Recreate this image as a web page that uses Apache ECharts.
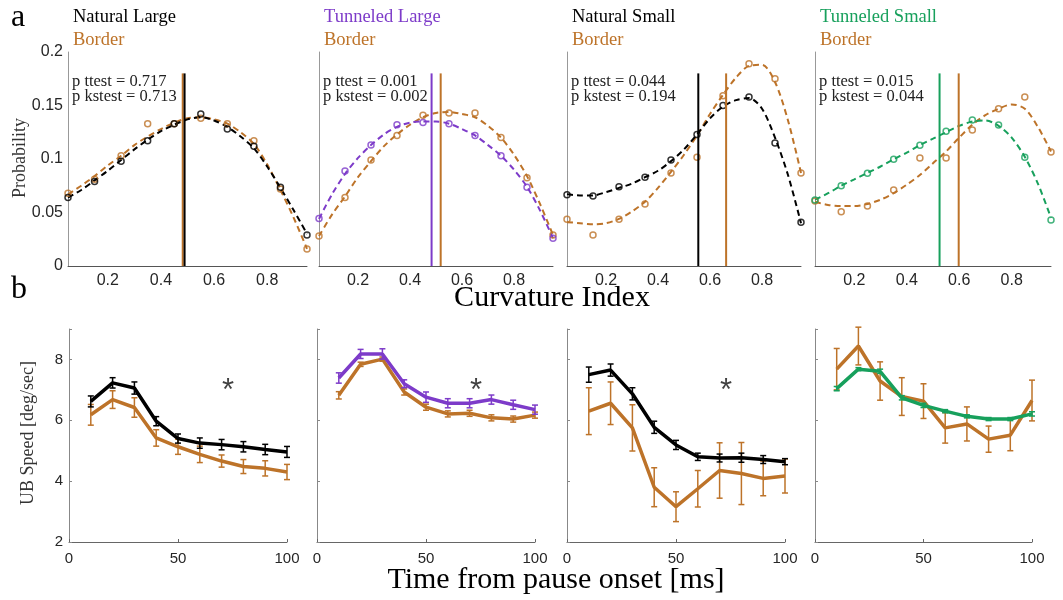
<!DOCTYPE html>
<html>
<head>
<meta charset="utf-8">
<script src="https://cdn.jsdelivr.net/npm/echarts@6/dist/echarts.min.js"></script>
<style>
    html, body { margin: 0; padding: 0; background: #fff; }
    #main { width: 1063px; height: 600px; }
</style>
</head>
<body>
<div id="main"></div>
<script>
// 曲率分箱 / 拟合曲线采样 / 时间点
var curvBins = [0.05, 0.15, 0.25, 0.35, 0.45, 0.55, 0.65, 0.75, 0.85, 0.95];
var fitBins = [0.05, 0.10, 0.15, 0.20, 0.25, 0.30, 0.35, 0.40, 0.45, 0.50,
               0.55, 0.60, 0.65, 0.70, 0.75, 0.80, 0.85, 0.90, 0.95];
var timeBins = [10, 20, 30, 40, 50, 60, 70, 80, 90, 100];

// a: Natural Large
var natLargeProb = [0.064, 0.079, 0.098, 0.117, 0.133, 0.142, 0.128, 0.112, 0.0735, 0.029];
var natLargeBorderProb = [0.068, 0.081, 0.103, 0.133, 0.133, 0.138, 0.133, 0.117, 0.072, 0.016];
var natLargeFit = [0.064, 0.071, 0.080, 0.089, 0.099, 0.109, 0.118, 0.126, 0.132, 0.137,
                   0.139, 0.136, 0.130, 0.121, 0.110, 0.093, 0.073, 0.052, 0.030];
var natLargeBorderFit = [0.067, 0.075, 0.084, 0.094, 0.103, 0.113, 0.121, 0.128, 0.134, 0.138,
                         0.139, 0.137, 0.133, 0.125, 0.114, 0.095, 0.071, 0.045, 0.016];
// a: Tunneled Large
var tunLargeProb = [0.0445, 0.0888, 0.113, 0.132, 0.134, 0.133, 0.122, 0.103, 0.0735, 0.026];
var tunLargeBorderProb = [0.028, 0.064, 0.099, 0.122, 0.141, 0.143, 0.143, 0.120, 0.0825, 0.029];
var tunLargeFit = [0.044, 0.067, 0.086, 0.101, 0.113, 0.123, 0.130, 0.134, 0.135, 0.135,
                   0.133, 0.128, 0.122, 0.113, 0.103, 0.090, 0.074, 0.052, 0.026];
var tunLargeBorderFit = [0.028, 0.048, 0.065, 0.083, 0.098, 0.112, 0.123, 0.132, 0.139, 0.143,
                         0.144, 0.142, 0.139, 0.131, 0.120, 0.104, 0.084, 0.058, 0.029];
// a: Natural Small
var natSmallProb = [0.0667, 0.0654, 0.074, 0.083, 0.099, 0.123, 0.150, 0.158, 0.115, 0.041];
var natSmallBorderProb = [0.0436, 0.029, 0.0436, 0.058, 0.087, 0.1016, 0.159, 0.189, 0.175, 0.087];
var natSmallFit = [0.067, 0.066, 0.066, 0.069, 0.073, 0.077, 0.083, 0.089, 0.098, 0.109,
                   0.123, 0.138, 0.149, 0.155, 0.157, 0.147, 0.120, 0.085, 0.040];
var natSmallBorderFit = [0.041, 0.040, 0.039, 0.040, 0.044, 0.051, 0.060, 0.073, 0.088, 0.104,
                         0.122, 0.142, 0.160, 0.176, 0.187, 0.188, 0.172, 0.136, 0.087];
// a: Tunneled Small
var tunSmallProb = [0.0617, 0.075, 0.0866, 0.0997, 0.1128, 0.126, 0.1364, 0.1318, 0.1016, 0.043];
var tunSmallBorderProb = [0.0607, 0.0508, 0.056, 0.071, 0.101, 0.101, 0.127, 0.147, 0.158, 0.1065];
var tunSmallFit = [0.062, 0.068, 0.075, 0.081, 0.087, 0.093, 0.0997, 0.106, 0.113, 0.119,
                   0.125, 0.131, 0.135, 0.136, 0.131, 0.120, 0.102, 0.077, 0.045];
var tunSmallBorderFit = [0.060, 0.057, 0.056, 0.056, 0.058, 0.062, 0.068, 0.076, 0.085, 0.096,
                         0.107, 0.120, 0.132, 0.141, 0.147, 0.151, 0.147, 0.130, 0.107];

// 均值竖线 [组, Border]
var meanCurv = [[0.489, 0.482], [0.483, 0.518], [0.555, 0.662], [0.525, 0.598]];
var meanLineTop = 0.18;
var pTtest = ['0.717', '0.001', '0.044', '0.015'];
var pKstest = ['0.713', '0.002', '0.194', '0.044'];

// b: UB speed
var natLargeSpeed = [6.62, 7.23, 7.06, 5.97, 5.40, 5.25, 5.20, 5.13, 5.04, 4.96];
var natLargeSpeedErr = [0.18, 0.17, 0.2, 0.15, 0.15, 0.17, 0.17, 0.17, 0.17, 0.18];
var natLargeBorderSpeed = [6.18, 6.68, 6.42, 5.42, 5.13, 4.88, 4.66, 4.48, 4.42, 4.30];
var natLargeBorderSpeedErr = [0.34, 0.29, 0.32, 0.27, 0.25, 0.27, 0.2, 0.23, 0.25, 0.25];

var tunLargeSpeed = [7.39, 8.18, 8.18, 7.20, 6.76, 6.56, 6.56, 6.68, 6.51, 6.35];
var tunLargeSpeedErr = [0.17, 0.15, 0.17, 0.13, 0.17, 0.15, 0.15, 0.15, 0.15, 0.15];
var tunLargeBorderSpeed = [6.82, 7.84, 8.01, 6.93, 6.43, 6.21, 6.23, 6.08, 6.04, 6.17];
var tunLargeBorderSpeedErr = [0.12, 0.07, 0.07, 0.1, 0.1, 0.1, 0.1, 0.1, 0.1, 0.1];

var natSmallSpeed = [7.50, 7.65, 6.87, 5.77, 5.19, 4.80, 4.76, 4.77, 4.71, 4.64];
var natSmallSpeedErr = [0.25, 0.2, 0.2, 0.2, 0.15, 0.12, 0.13, 0.15, 0.13, 0.1];
var natSmallBorderSpeed = [6.30, 6.56, 5.75, 3.80, 3.16, 3.75, 4.35, 4.25, 4.09, 4.17];
var natSmallBorderSpeedErr = [0.77, 0.7, 0.76, 0.64, 0.49, 0.6, 0.91, 1.02, 0.57, 0.56];

var tunSmallSpeed = [7.04, 7.68, 7.61, 6.74, 6.49, 6.30, 6.13, 6.04, 6.04, 6.21];
var tunSmallSpeedErr = [0.07, 0.05, 0.07, 0.07, 0.07, 0.05, 0.05, 0.05, 0.05, 0.07];
var tunSmallBorderSpeed = [7.68, 8.44, 7.29, 6.78, 6.63, 5.75, 5.88, 5.38, 5.51, 6.65];
var tunSmallBorderSpeedErr = [0.68, 0.62, 0.63, 0.62, 0.57, 0.5, 0.56, 0.43, 0.51, 0.67];

// 显著性星号
var starPos = [[73, 7.2], [73, 7.2], [73, 7.2], null];

var orange = '#bd7329';
var panels = [
    { name: 'Natural Large', color: '#000000', prob: natLargeProb, bProb: natLargeBorderProb, fit: natLargeFit, bFit: natLargeBorderFit,
      speed: natLargeSpeed, speedErr: natLargeSpeedErr, bSpeed: natLargeBorderSpeed, bSpeedErr: natLargeBorderSpeedErr },
    { name: 'Tunneled Large', color: '#7d3bc9', prob: tunLargeProb, bProb: tunLargeBorderProb, fit: tunLargeFit, bFit: tunLargeBorderFit,
      speed: tunLargeSpeed, speedErr: tunLargeSpeedErr, bSpeed: tunLargeBorderSpeed, bSpeedErr: tunLargeBorderSpeedErr },
    { name: 'Natural Small', color: '#000000', prob: natSmallProb, bProb: natSmallBorderProb, fit: natSmallFit, bFit: natSmallBorderFit,
      speed: natSmallSpeed, speedErr: natSmallSpeedErr, bSpeed: natSmallBorderSpeed, bSpeedErr: natSmallBorderSpeedErr },
    { name: 'Tunneled Small', color: '#17a05c', prob: tunSmallProb, bProb: tunSmallBorderProb, fit: tunSmallFit, bFit: tunSmallBorderFit,
      speed: tunSmallSpeed, speedErr: tunSmallSpeedErr, bSpeed: tunSmallBorderSpeed, bSpeedErr: tunSmallBorderSpeedErr }
];

var topLeft = [68, 319, 567, 815], topWidth = [239, 234, 234, 236];
var botLeft = [69, 317, 567, 815], botWidth = [218, 218, 218, 217];

var serif = '"Liberation Serif", "DejaVu Serif", serif';
var sans = '"Liberation Sans", Arial, sans-serif';

function zip(xs, ys) {
    return xs.map(function (x, i) { return [x, ys[i]]; });
}
function zip3(xs, ys, es) {
    return xs.map(function (x, i) { return [x, ys[i], es[i]]; });
}

function errBar(color) {
    return function (params, api) {
        var x = api.value(0), y = api.value(1), e = api.value(2);
        var hi = api.coord([x, y + e]);
        var lo = api.coord([x, y - e]);
        var w = 3;
        var st = { stroke: color, lineWidth: 1.5 };
        return {
            type: 'group',
            children: [
                { type: 'line', shape: { x1: hi[0], y1: hi[1], x2: lo[0], y2: lo[1] }, style: st },
                { type: 'line', shape: { x1: hi[0] - w, y1: hi[1], x2: hi[0] + w, y2: hi[1] }, style: st },
                { type: 'line', shape: { x1: lo[0] - w, y1: lo[1], x2: lo[0] + w, y2: lo[1] }, style: st }
            ]
        };
    };
}

var grids = [], xAxes = [], yAxes = [], series = [], texts = [];

// grid / axis 顺序: 上排 2*i, 下排 2*i+1
panels.forEach(function (p, i) {
    var g = 2 * i, gb = 2 * i + 1;
    grids.push({ left: topLeft[i], width: topWidth[i], top: 52, height: 214 });
    xAxes.push({
        type: 'value', gridIndex: g, min: 0.05, max: 0.95, interval: 0.05,
        axisLine: { lineStyle: { color: '#555', width: 1 } },
        axisTick: { show: false },
        splitLine: { show: false },
        axisLabel: {
            color: '#262626', fontSize: 16, fontFamily: sans, margin: 7,
            formatter: function (v) {
                var k = Math.round(v * 10);
                if (Math.abs(v * 10 - k) > 1e-6 || k % 2 !== 0) return '';
                return (k / 10).toFixed(1);
            }
        }
    });
    yAxes.push({
        type: 'value', gridIndex: g, min: 0, max: 0.2, interval: 0.05,
        axisLine: { show: true, lineStyle: { color: '#999', width: 1 } },
        axisTick: { show: false },
        splitLine: { show: false },
        axisLabel: { show: i === 0, color: '#262626', fontSize: 16, fontFamily: sans, margin: 5 }
    });

    grids.push({ left: botLeft[i], width: botWidth[i], top: 329, height: 213 });
    xAxes.push({
        type: 'value', gridIndex: gb, min: 0, max: 100, interval: 50,
        axisLine: { lineStyle: { color: '#666', width: 1 } },
        axisTick: { show: true, inside: true, length: 3, lineStyle: { color: '#666' } },
        splitLine: { show: false },
        axisLabel: { color: '#262626', fontSize: 15, fontFamily: sans, margin: 9 }
    });
    yAxes.push({
        type: 'value', gridIndex: gb, min: 2, max: 9, interval: 2,
        axisLine: { show: true, lineStyle: { color: '#888', width: 1 } },
        axisTick: { show: true, inside: true, length: 3, lineStyle: { color: '#888' } },
        splitLine: { show: false },
        axisLabel: {
            show: i === 0, color: '#262626', fontSize: 15, fontFamily: sans, margin: 6,
            formatter: function (v) { return v % 2 === 0 ? String(v) : ''; }
        }
    });
});

panels.forEach(function (p, i) {
    var ta = 2 * i, ba = 2 * i + 1;

    // 拟合虚线
    [[p.bFit, orange], [p.fit, p.color]].forEach(function (f) {
        series.push({
            type: 'line', xAxisIndex: ta, yAxisIndex: ta, data: zip(fitBins, f[0]),
            smooth: 0.3, showSymbol: false, silent: true, z: 2,
            lineStyle: { color: f[1], width: 2, type: [6, 4] }
        });
    });
    // 空心圆点
    [[p.bProb, orange], [p.prob, p.color]].forEach(function (s) {
        series.push({
            type: 'scatter', xAxisIndex: ta, yAxisIndex: ta, data: zip(curvBins, s[0]),
            symbol: 'circle', symbolSize: 6, z: 3,
            itemStyle: { color: 'rgba(0,0,0,0)', borderColor: s[1], borderWidth: 1.5 }
        });
    });
    // 均值竖线
    [[meanCurv[i][1], orange], [meanCurv[i][0], p.color]].forEach(function (m) {
        series.push({
            type: 'line', xAxisIndex: ta, yAxisIndex: ta, data: [[m[0], 0], [m[0], meanLineTop]],
            showSymbol: false, silent: true, z: 4,
            lineStyle: { color: m[1], width: 2 }
        });
    });

    // 下排: 速度曲线 + 误差棒
    series.push({
        type: 'line', xAxisIndex: ba, yAxisIndex: ba, data: zip(timeBins, p.bSpeed),
        showSymbol: false, z: 2, lineStyle: { color: orange, width: 3.5 }
    });
    series.push({
        type: 'custom', xAxisIndex: ba, yAxisIndex: ba, data: zip3(timeBins, p.bSpeed, p.bSpeedErr),
        renderItem: errBar(orange), z: 3
    });
    series.push({
        type: 'line', xAxisIndex: ba, yAxisIndex: ba, data: zip(timeBins, p.speed),
        showSymbol: false, z: 4, lineStyle: { color: p.color, width: 3.5 }
    });
    series.push({
        type: 'custom', xAxisIndex: ba, yAxisIndex: ba, data: zip3(timeBins, p.speed, p.speedErr),
        renderItem: errBar(p.color), z: 5
    });
    if (starPos[i]) {
        series.push({
            type: 'scatter', xAxisIndex: ba, yAxisIndex: ba, data: [starPos[i]],
            symbolSize: 1, itemStyle: { color: 'rgba(0,0,0,0)' },
            label: { show: true, position: 'inside', formatter: '*', fontSize: 31, color: '#111', fontFamily: sans, offset: [0, 8] }
        });
    }

    // 标题和 p 值
    var tx = topLeft[i] + 5;
    texts.push({ type: 'text', x: tx, y: 17, style: { text: p.name, fill: p.color, font: '18.5px ' + serif, verticalAlign: 'middle' } });
    texts.push({ type: 'text', x: tx, y: 40, style: { text: 'Border', fill: orange, font: '18.5px ' + serif, verticalAlign: 'middle' } });
    texts.push({ type: 'text', x: topLeft[i] + 4, y: 82, style: { text: 'p ttest = ' + pTtest[i], fill: '#222', font: '16.5px ' + serif, verticalAlign: 'middle' } });
    texts.push({ type: 'text', x: topLeft[i] + 4, y: 97, style: { text: 'p kstest = ' + pKstest[i], fill: '#222', font: '16.5px ' + serif, verticalAlign: 'middle' } });
});

texts.push({ type: 'text', x: 11, y: 18, style: { text: 'a', fill: '#000', font: '32px ' + serif, verticalAlign: 'middle' } });
texts.push({ type: 'text', x: 11, y: 290, style: { text: 'b', fill: '#000', font: '32px ' + serif, verticalAlign: 'middle' } });
texts.push({ type: 'text', x: 552, y: 298, style: { text: 'Curvature Index', fill: '#000', font: '30px ' + serif, align: 'center', verticalAlign: 'middle' } });
texts.push({ type: 'text', x: 556, y: 580, style: { text: 'Time from pause onset [ms]', fill: '#000', font: '30px ' + serif, align: 'center', verticalAlign: 'middle' } });
texts.push({ type: 'text', x: 20, y: 158, rotation: Math.PI / 2, style: { text: 'Probability', fill: '#333', font: '18px ' + serif, align: 'center', verticalAlign: 'middle' } });
texts.push({ type: 'text', x: 28, y: 433, rotation: Math.PI / 2, style: { text: 'UB Speed [deg/sec]', fill: '#333', font: '18px ' + serif, align: 'center', verticalAlign: 'middle' } });

var myChart = echarts.init(document.getElementById('main'));
myChart.setOption({
    backgroundColor: '#fff',
    animation: false,
    grid: grids,
    xAxis: xAxes,
    yAxis: yAxes,
    series: series,
    graphic: texts
});
</script>
</body>
</html>
